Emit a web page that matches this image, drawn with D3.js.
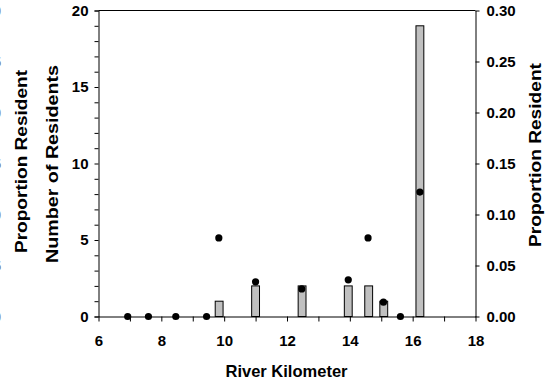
<!DOCTYPE html>
<html>
<head>
<meta charset="utf-8">
<script src="https://cdn.jsdelivr.net/npm/d3@7"></script>
<style>
  body { margin: 0; background: #fff; }
  svg { display: block; font-family: Arial, "Liberation Sans", sans-serif; font-weight: bold; }
</style>
</head>
<body>
<div id="chart"></div>
<script>
// bars: number of residents per river km
const countKm = [9.84, 11.0, 12.48, 13.95, 14.6, 15.08, 16.23];
const counts = [1, 2, 2, 2, 2, 1, 19];

// dots: proportion resident per river km
const propKm = [6.93, 7.59, 8.46, 9.44, 9.83, 11.0, 12.47, 13.95, 14.58, 15.07, 15.61, 16.23];
const props = [0, 0, 0, 0, 0.077, 0.034, 0.027, 0.036, 0.077, 0.014, 0, 0.122];

const xTicks = [6, 8, 10, 12, 14, 16, 18];
const countTicks = [0, 5, 10, 15, 20];
const propTicks = [0, 0.05, 0.10, 0.15, 0.20, 0.25, 0.30];

const width = 555, height = 381;
const plot = {left: 98.5, right: 475.5, top: 10.5, bottom: 316.5};

const svg = d3.select("#chart").append("svg")
    .attr("width", width)
    .attr("height", height);

const x = d3.scaleLinear().domain([6, 18]).range([plot.left, plot.right]);
const yCount = d3.scaleLinear().domain([0, 20]).range([plot.bottom, plot.top]);
const yProp = d3.scaleLinear().domain([0, 0.30]).range([plot.bottom, plot.top]);

// labels of a neighbouring panel, cut off at the very left edge
svg.append("g").selectAll("text")
    .data(propTicks)
    .enter().append("text")
    .attr("x", 1)
    .attr("y", d => yProp(d))
    .attr("dy", "0.35em")
    .attr("text-anchor", "end")
    .style("font-size", "15px")
    .style("fill", "#777")
    .text(d => d.toFixed(2));

// top frame line
svg.append("line")
    .attr("x1", plot.left).attr("x2", plot.right)
    .attr("y1", plot.top).attr("y2", plot.top)
    .attr("stroke", "#000");

// bars
const barW = x(6.25) - x(6);
svg.append("g").selectAll("rect")
    .data(counts)
    .enter().append("rect")
    .attr("x", (d, i) => x(countKm[i]) - barW / 2)
    .attr("y", d => yCount(d))
    .attr("width", barW)
    .attr("height", d => plot.bottom - yCount(d))
    .attr("fill", "#c0c0c0")
    .attr("stroke", "#000")
    .attr("stroke-width", 1);

// axes
function styleAxis(g) {
    g.select(".domain").attr("stroke", "#000");
    g.selectAll(".tick line").attr("stroke", "#000");
    g.selectAll(".tick text").style("font-size", "15px").style("font-weight", "bold").attr("fill", "#000");
}

const gx = svg.append("g")
    .attr("transform", `translate(0,${plot.bottom})`)
    .call(d3.axisBottom(x).tickValues(d3.range(6, 19, 1)).tickSize(5).tickSizeOuter(0)
        .tickFormat(d => xTicks.includes(d) ? d : ""));
styleAxis(gx);
gx.selectAll(".tick text").attr("y", 19);

const gl = svg.append("g")
    .attr("transform", `translate(${plot.left},0)`)
    .call(d3.axisLeft(yCount).tickValues(d3.range(0, 21, 1)).tickSizeOuter(0)
        .tickSize(4).tickFormat(d => countTicks.includes(d) ? d : ""));
styleAxis(gl);
gl.selectAll(".tick text").attr("x", -10);

const gr = svg.append("g")
    .attr("transform", `translate(${plot.right},0)`)
    .call(d3.axisRight(yProp).tickValues(propTicks).tickSize(4).tickSizeOuter(0)
        .tickFormat(d3.format(".2f")));
styleAxis(gr);
gr.selectAll(".tick text").attr("x", 11);

// dots
svg.append("g").selectAll("circle")
    .data(props)
    .enter().append("circle")
    .attr("cx", (d, i) => x(propKm[i]))
    .attr("cy", d => yProp(d))
    .attr("r", 3.6)
    .attr("fill", "#000");

// axis titles
svg.append("text")
    .attr("x", (plot.left + plot.right) / 2 - 0.5)
    .attr("y", 377)
    .attr("text-anchor", "middle")
    .style("font-size", "16.5px")
    .text("River Kilometer");

function vTitle(cx, cy, len, label) {
    svg.append("text")
        .attr("transform", `translate(${cx},${cy}) rotate(-90)`)
        .attr("text-anchor", "middle")
        .attr("dy", "0.35em")
        .attr("textLength", len)
        .attr("lengthAdjust", "spacingAndGlyphs")
        .style("font-size", "16px")
        .text(label);
}
vTitle(21, 161.5, 183, "Proportion Resident");
vTitle(52, 164, 198, "Number of Residents");
vTitle(535, 155, 184, "Proportion Resident");
</script>
</body>
</html>
